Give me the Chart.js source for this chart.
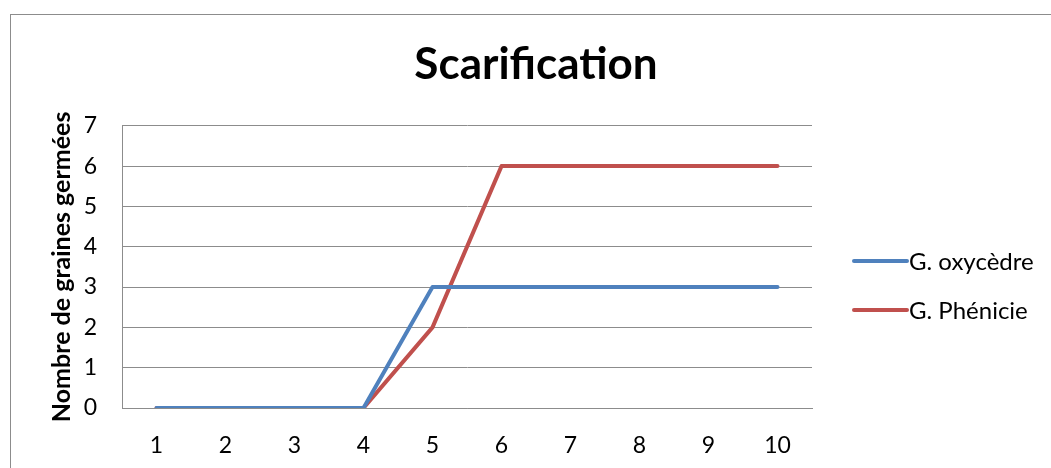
<!DOCTYPE html>
<html>
<head>
<meta charset="utf-8">
<script src="https://cdn.jsdelivr.net/npm/chart.js@4"></script>
<style>
  html,body{margin:0;padding:0;background:#fff;overflow:hidden}
  #wrap{position:relative;width:1051px;height:468px}
  #frame{position:absolute;left:10px;top:14px;width:1100px;height:500px;border:1px solid #8c8c8c;box-sizing:border-box;pointer-events:none}
  canvas{position:absolute;left:0;top:0}
</style>
</head>
<body>
<div id="wrap">
  <canvas id="c" width="1051" height="468"></canvas>
  <div id="frame"></div>
</div>
<script>
'use strict';
const days=['1','2','3','4','5','6','7','8','9','10'];
const oxycedre=[0,0,0,0,3,3,3,3,3,3];
const phenicie=[0,0,0,0,2,6,6,6,6,6];
const seriesNames=['G. oxycèdre','G. Phénicie'];
const seriesColors=['#4f81bd','#c0504d'];
const yTicks=[0,1,2,3,4,5,6,7];

const FONT='Lato, Carlito, "Liberation Sans", sans-serif';
const GRID='#8c8c8c';

// legend drawn to the right of the plot, like the spreadsheet one
const sideLegend={
  id:'sideLegend',
  afterDraw(chart){
    const ctx=chart.ctx, a=chart.chartArea;
    const x0=a.right+40, yMid=(a.top+a.bottom)/2-6;
    ctx.save();
    ctx.font='24px '+FONT;
    ctx.textBaseline='middle';
    ctx.textAlign='left';
    chart.data.datasets.forEach((ds,i)=>{
      const y=yMid+i*49;
      ctx.strokeStyle=ds.borderColor;
      ctx.lineWidth=4;
      ctx.lineCap='round';
      ctx.beginPath();ctx.moveTo(x0+2,y);ctx.lineTo(x0+55,y);ctx.stroke();
      ctx.fillStyle='#000';
      ctx.fillText(ds.label,x0+57,y+1);
    });
    ctx.restore();
  }
};

new Chart(document.getElementById('c').getContext('2d'),{
  type:'line',
  data:{
    labels:days,
    datasets:[
      {label:seriesNames[0],data:oxycedre,borderColor:seriesColors[0],backgroundColor:seriesColors[0]},
      {label:seriesNames[1],data:phenicie,borderColor:seriesColors[1],backgroundColor:seriesColors[1]}
    ]
  },
  options:{
    responsive:false,
    animation:false,
    devicePixelRatio:1,
    layout:{padding:{left:21,right:0,top:0,bottom:0}},
    elements:{
      point:{radius:0,hoverRadius:0},
      line:{borderWidth:4,tension:0,borderCapStyle:'round',borderJoinStyle:'round',fill:false}
    },
    plugins:{
      legend:{display:false},
      tooltip:{enabled:false},
      title:{
        display:true,
        text:'Scarification',
        color:'#000',
        font:{family:FONT,size:44,weight:'bold',lineHeight:1.2},
        padding:{top:38,bottom:35}
      }
    },
    scales:{
      x:{
        offset:true,
        grid:{display:false,drawTicks:false},
        border:{display:true,color:GRID,width:1},
        ticks:{color:'#000',font:{family:FONT,size:23},padding:24,maxRotation:0},
        afterFit(s){s.height=60;}
      },
      y:{
        min:0,max:7,
        afterBuildTicks(s){s.ticks=yTicks.map(v=>({value:v}));},
        grid:{color:GRID,drawTicks:false,lineWidth:1},
        border:{display:true,color:GRID,width:1},
        ticks:{color:'#000',font:{family:FONT,size:23},padding:25},
        title:{display:true,text:'Nombre de graines germées',color:'#000',
               font:{family:FONT,size:25,weight:'bold'},padding:{top:26,bottom:0}},
        afterFit(s){s.width=101;}
      },
      yr:{
        position:'right',
        grid:{display:false,drawTicks:false},
        border:{display:false},
        ticks:{display:false},
        afterFit(s){s.width=239;}
      }
    }
  },
  plugins:[sideLegend]
});
</script>
</body>
</html>
